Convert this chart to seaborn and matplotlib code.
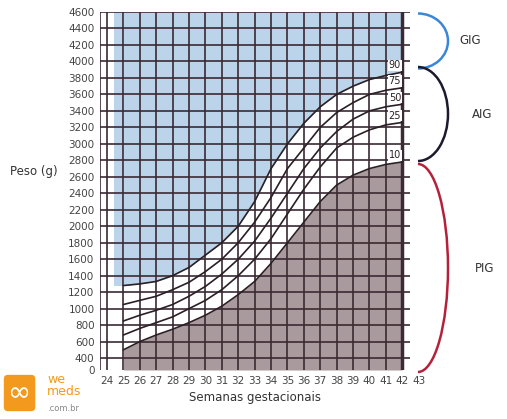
import numpy as np
import matplotlib
matplotlib.use("Agg")
import matplotlib.pyplot as plt
import seaborn as sns
from matplotlib.patches import Arc
import pandas as pd

weeks = list(range(25, 43))
p90 = [1280,1300,1330,1400,1500,1650,1800,2000,2300,2700,3000,3250,3450,3600,3700,3780,3830,3870]
p75 = [1050,1100,1150,1230,1320,1450,1600,1800,2050,2350,2700,2950,3200,3380,3500,3600,3650,3680]
p50 = [850,920,980,1050,1150,1270,1420,1600,1820,2100,2400,2700,2950,3150,3300,3400,3450,3480]
p25 = [680,760,830,900,1000,1100,1230,1400,1600,1850,2150,2450,2720,2950,3080,3170,3230,3260]
p10 = [500,600,680,750,830,920,1030,1170,1330,1550,1800,2050,2300,2500,2620,2700,2750,2780]
labels = ["90","75","50","25","10"]
xticks = list(range(24, 44))
yticks = list(range(400, 4601, 200))

sns.set_theme(style="white")
plt.rcParams['font.family'] = ['DejaVu Sans']
fig = plt.figure(figsize=(5.07, 4.19), dpi=100)
W, H = 507, 419
ax = fig.add_axes([100/W, 1-370/H, 310/W, 358/H])
x0, x1 = 23.57, 42.47
ax.set_xlim(x0, x1); ax.set_ylim(255, 4600)

w = np.array(weeks)
ax.fill_between([24.4, 25], [1280,1280], [4600,4600], color="#bcd4ea", lw=0, zorder=0)
ax.fill_between(w, p90, 4600, color="#bcd4ea", lw=0, zorder=0)
ax.fill_between(w, 255, p10, color="#a99a9d", lw=0, zorder=0)

ax.axvline(x0 + 0.02, color="#3b2a33", lw=1.2, zorder=1)
for v in range(24, 43):
    ax.axvline(v, color="#3b2a33", lw=1.2, zorder=1)
for v in range(400, 4601, 200):
    ax.axhline(v, color="#3b2a33", lw=1.2, zorder=1)
ax.axvline(42, color="#3b2a33", lw=2.5, zorder=2)

df = pd.DataFrame({"w": weeks * 5, "v": p90+p75+p50+p25+p10,
                   "p": sum([[l]*len(weeks) for l in labels], [])})
sns.lineplot(data=df, x="w", y="v", units="p", estimator=None, color="#2a1f24",
             lw=1.2, ax=ax, legend=False, zorder=3)
for l, s in zip(labels, [p90, p75, p50, p25, p10]):
    ax.text(41.55, s[-1] + 20, l, fontsize=7, ha="center", va="bottom",
            color="#2a1f24", zorder=4, bbox=dict(fc="white", ec="none", pad=0.5))

ax.set_xticks(xticks[:-1]); ax.set_xticklabels([str(t) for t in xticks[:-1]], fontsize=7.5, color="#444")
ax.annotate("43", xy=(43.0, 0), xycoords=("data", "axes fraction"), xytext=(0, -4),
            textcoords="offset points", fontsize=7.5, color="#444", ha="center", va="top",
            annotation_clip=False)
ax.set_yticks([255] + yticks)
ax.set_yticklabels(["0"] + [str(t) for t in yticks], fontsize=7.5, color="#444")
ax.tick_params(length=0, pad=4)
for s in ax.spines.values():
    s.set_visible(False)
ax.set_xlabel("Semanas gestacionais", fontsize=8.5, color="#333", labelpad=4)
ax.set_ylabel("")
fig.text(10/W, 1-172/H, "Peso (g)", fontsize=8.5, color="#333", va="center")

def arc(cx, cy, hgt, col):
    a = Arc((cx, cy), 30/W*2, hgt, theta1=-90, theta2=90, color=col, lw=1.8,
            transform=fig.transFigure)
    fig.add_artist(a)
arc(418/W, 1-41/H, 55/H, "#3a86d8")
arc(418/W, 1-114/H, 94/H, "#1c1b2e")
arc(418/W, 1-268/H, 208/H, "#b5213b")
fig.text(470/W, 1-41/H, "GIG", fontsize=8.5, color="#333", ha="center", va="center")
fig.text(482/W, 1-114/H, "AIG", fontsize=8.5, color="#333", ha="center", va="center")
fig.text(485/W, 1-268/H, "PIG", fontsize=8.5, color="#333", ha="center", va="center")

fig.text(8/W, 1-393/H, "∞", fontsize=20, color="white", va="center",
         bbox=dict(fc="#f39a1e", ec="none", boxstyle="round,pad=0.15"))
fig.text(47/W, 1-385/H, "we\nmeds", fontsize=9, color="#f39a1e", va="center", linespacing=0.9)
fig.text(47/W, 1-408/H, ".com.br", fontsize=6, color="#888", va="center")

fig.savefig("out.png", dpi=100)
